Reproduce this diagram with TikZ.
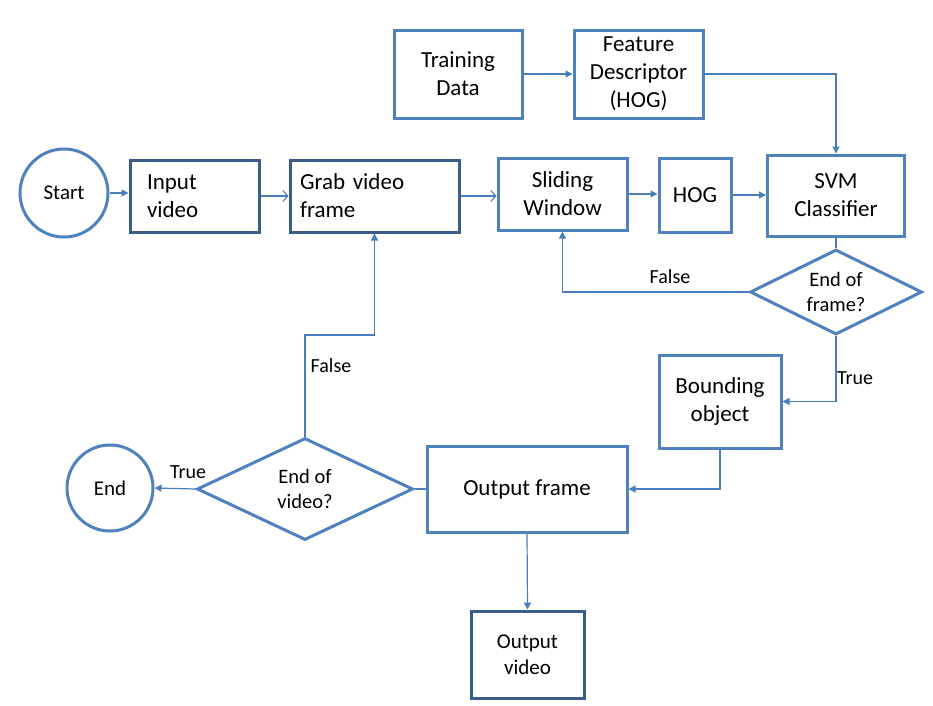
\documentclass[tikz,border=0pt]{standalone}
\usepackage{fontspec}
\setmainfont{Carlito}
\usetikzlibrary{shapes.geometric,arrows.meta}
\definecolor{boxblue}{RGB}{79,129,189}
\definecolor{darkblue}{RGB}{56,93,138}
\definecolor{lineblue}{RGB}{74,126,187}
\begin{document}
\begin{tikzpicture}[x=1pt,y=-1pt,
  box/.style={draw=boxblue, line width=3pt, rectangle, fill=white,
    font=\fontsize{23}{28}\selectfont, align=center, inner sep=0pt},
  darkbox/.style={box, draw=darkblue},
  circ/.style={draw=boxblue, line width=3pt, circle, inner sep=0pt,
    font=\fontsize{21}{25}\selectfont},
  dia/.style={draw=boxblue, line width=3pt, diamond, aspect=2, inner sep=0pt,
    align=center, font=\fontsize{20.5}{25}\selectfont},
  lab/.style={font=\fontsize{20}{24}\selectfont, inner sep=0pt},
  plain/.style={draw=lineblue, line width=1.2pt},
  conn/.style={plain, -{Triangle[length=7pt,width=7pt]}},
  connopen/.style={plain, -{Straight Barb[length=5pt,width=11pt,line width=1.1pt]}}
]
\useasboundingbox (0,0) rectangle (933,705);

\node[circ, minimum size=88pt] (start) at (64,193) {Start};
\node[darkbox, minimum width=129pt, minimum height=72pt, inner xsep=17pt,
  text width=95pt, align=left] (input) at (194.5,196) {Input\\video};
\node[darkbox, minimum width=169pt, minimum height=72pt, inner xsep=10pt,
  text width=149pt, align=left] (grab) at (374.5,196) {Grab video\\frame};
\node[box, minimum width=129pt, minimum height=72pt] (slide) at (562.5,194) {Sliding\\Window};
\node[box, minimum width=72pt, minimum height=74pt] (hog) at (695,195) {HOG};
\node[box, minimum width=137pt, minimum height=81pt] (svm) at (836,195.5) {SVM\\Classifier};
\node[box, minimum width=128pt, minimum height=88pt] (train) at (458,74) {Training\\Data};
\node[box, minimum width=129pt, minimum height=88pt] (feat) at (638.5,74) {Feature\\Descriptor\\(HOG)};
\node[dia, minimum width=172pt, minimum height=85pt] (dframe) at (836,292) {End of\\frame?};
\node[box, minimum width=122pt, minimum height=93pt] (bound) at (720,401.5) {Bounding\\object};
\node[box, minimum width=200pt, minimum height=86pt] (oframe) at (527,489) {Output frame};
\node[dia, minimum width=216pt, minimum height=102pt] (dvideo) at (305,489) {End of\\video?};
\node[circ, minimum size=86pt] (endc) at (110,488) {End};
\node[darkbox, minimum width=113pt, minimum height=87pt,
  font=\fontsize{21}{26}\selectfont] (ovideo) at (527.5,654.5) {Output\\video};

\coordinate (bend) at (305,335);

\draw[conn] (start.east) -- (start.east -| input.west);
\draw[connopen] (input.east) -- (grab.west);
\draw[connopen] (grab.east) -- (grab.east -| slide.west);
\draw[conn] (slide.east) -- (slide.east -| hog.west);
\draw[conn] (hog.east) -- (hog.east -| svm.west);
\draw[conn] (train.east) -- (feat.west);
\draw[conn] (feat.east) -| (svm.north);
\draw[plain] (svm.south) -- (dframe.north);
\draw[conn] (dframe.west) -| (slide.south);
\draw[conn] (dframe.south) |- (bound.east);
\draw[conn] (bound.south) |- (oframe.east);
\draw[plain] (oframe.west) -- (dvideo.east);
\draw[conn] (dvideo.west) -- (endc.east);
\draw[conn] (dvideo.north) -- (bend) -| (grab.south);
\draw[conn] (oframe.south) -- (ovideo.north);

\node[lab] (l1) at (670,277) {False};
\node[lab] (l2) at (855,378) {True};
\node[lab] (l3) at (331,366) {False};
\node[lab] (l4) at (188,472) {True};
\end{tikzpicture}
\end{document}
